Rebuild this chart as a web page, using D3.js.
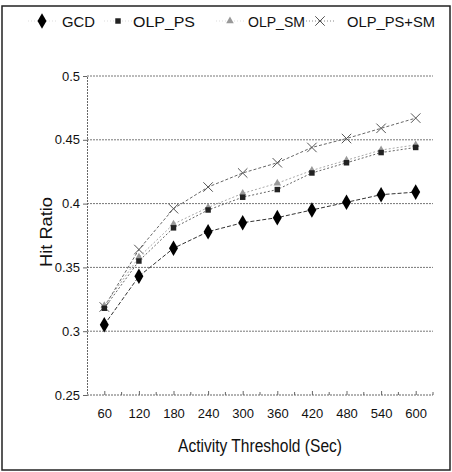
<!DOCTYPE html>
<html lang="en">
<head>
  <meta charset="utf8">
  <script src="https://cdn.jsdelivr.net/npm/d3@7"></script>
  <title>Hit Ratio</title>
  <style>
    body { margin: 0; background: #fff; }
    text { font-family: "Liberation Sans", Arial, sans-serif; fill: #111; }
  </style>
</head>
<body>
  <div id="chart"></div>
<script>
  // data
  var thresholds = ["60", "120", "180", "240", "300", "360", "420", "480", "540", "600"];
  var gcd     = [0.305, 0.343, 0.365, 0.378, 0.385, 0.389, 0.395, 0.401, 0.407, 0.409];
  var olpPs   = [0.318, 0.355, 0.381, 0.395, 0.405, 0.411, 0.424, 0.432, 0.440, 0.444];
  var olpSm   = [0.320, 0.358, 0.384, 0.397, 0.408, 0.416, 0.426, 0.434, 0.442, 0.446];
  var olpPsSm = [0.319, 0.364, 0.396, 0.413, 0.424, 0.432, 0.444, 0.451, 0.459, 0.467];
  var yTicks = [0.25, 0.3, 0.35, 0.4, 0.45, 0.5];
  var yTickLabels = ["0.25", "0.3", "0.35", "0.4", "0.45", "0.5"];
  var seriesNames = ["GCD", "OLP_PS", "OLP_SM", "OLP_PS+SM"];

  var width = 452, height = 472;
  var plot = { left: 87, right: 433, top: 76, bottom: 395 };

  var svg = d3.select("#chart").append("svg")
    .attr("width", width).attr("height", height);

  // outer frame
  svg.append("rect")
    .attr("x", 2).attr("y", 6).attr("width", 448).attr("height", 464)
    .attr("fill", "none").attr("stroke", "#222").attr("stroke-width", 1.5);

  var x = d3.scalePoint().domain(thresholds)
    .range([plot.left, plot.right]).padding(0.5);
  var y = d3.scaleLinear().domain([0.25, 0.5])
    .range([plot.bottom, plot.top]);

  // gridlines
  svg.append("g").selectAll("line")
    .data(yTicks.filter(function (d) { return d > 0.25; }))
    .enter().append("line")
    .attr("x1", plot.left).attr("x2", plot.right)
    .attr("y1", function (d) { return y(d); })
    .attr("y2", function (d) { return y(d); })
    .attr("stroke", "#777").attr("stroke-width", 1)
    .attr("stroke-dasharray", "2,1");

  // y axis
  var yAxis = d3.axisLeft(y).tickValues(yTicks)
    .tickSize(4)
    .tickFormat(function (d, i) { return yTickLabels[i]; });
  var gy = svg.append("g").attr("transform", "translate(" + plot.left + ",0)").call(yAxis);
  gy.select(".domain").attr("stroke", "#666").attr("stroke-dasharray", "2,1");
  gy.selectAll(".tick line").attr("stroke", "#666");
  gy.selectAll("text").style("font-size", "13px").attr("x", -7).attr("fill", "#111");

  // x axis
  var xAxis = d3.axisBottom(x).tickSize(-4).tickPadding(14);
  var gx = svg.append("g").attr("transform", "translate(0," + plot.bottom + ")").call(xAxis);
  gx.select(".domain").attr("d", "M" + plot.left + ",0H" + plot.right)
    .attr("stroke", "#666").attr("stroke-dasharray", "2,1");
  gx.selectAll(".tick line").attr("stroke", "#666");
  gx.selectAll("text").style("font-size", "13px").attr("fill", "#111");
  // minor ticks between categories
  var step = x.step();
  gx.selectAll("line.minor").data(thresholds).enter().append("line")
    .attr("class", "minor")
    .attr("x1", function (d) { return x(d) + step / 2; })
    .attr("x2", function (d) { return x(d) + step / 2; })
    .attr("y1", 0).attr("y2", -3).attr("stroke", "#666");

  // axis titles
  svg.append("text").attr("x", 260).attr("y", 452)
    .attr("text-anchor", "middle").style("font-size", "18px")
    .attr("textLength", 164).attr("lengthAdjust", "spacingAndGlyphs")
    .text("Activity Threshold (Sec)");
  svg.append("text")
    .attr("transform", "translate(52,232) rotate(-90)")
    .attr("text-anchor", "middle").style("font-size", "17px")
    .attr("textLength", 70).attr("lengthAdjust", "spacingAndGlyphs")
    .text("Hit Ratio");

  // series
  var series = [
    { name: seriesNames[0], values: gcd, stroke: "#333", dash: "4,2", mark: "diamond", fill: "#000" },
    { name: seriesNames[1], values: olpPs, stroke: "#666", dash: "2,2", mark: "square", fill: "#222" },
    { name: seriesNames[2], values: olpSm, stroke: "#aaa", dash: "2,2", mark: "triangle", fill: "#999" },
    { name: seriesNames[3], values: olpPsSm, stroke: "#666", dash: "3,2", mark: "cross", fill: "#555" }
  ];

  var line = d3.line()
    .x(function (d, i) { return x(thresholds[i]); })
    .y(function (d) { return y(d); });

  var symbolFor = {
    diamond: d3.symbol().type(d3.symbolDiamond).size(70),
    square: d3.symbol().type(d3.symbolSquare).size(30),
    triangle: d3.symbol().type(d3.symbolTriangle).size(25),
    cross: d3.symbol().type(d3.symbolX).size(60)
  };

  function drawMark(g, s, cx, cy) {
    var p = g.append("path").attr("d", symbolFor[s.mark]())
      .attr("transform", "translate(" + cx + "," + cy + ")");
    if (s.mark === "cross") {
      p.attr("fill", "none").attr("stroke", s.fill).attr("stroke-width", 1);
    } else {
      p.attr("fill", s.fill);
    }
  }

  series.slice().reverse().forEach(function (s) {
    var g = svg.append("g");
    g.append("path").datum(s.values)
      .attr("d", line).attr("fill", "none")
      .attr("stroke", s.stroke).attr("stroke-width", 1)
      .attr("stroke-dasharray", s.dash);
    s.values.forEach(function (v, i) {
      drawMark(g, s, x(thresholds[i]), y(v));
    });
  });

  // legend
  var legendPos = [
    { mx: 42, tx: 62, tw: 33 },
    { mx: 118, tx: 133, tw: 62 },
    { mx: 230, tx: 248, tw: 57 },
    { mx: 320, tx: 347, tw: 88 }
  ];
  var legend = svg.append("g");
  series.forEach(function (s, i) {
    var lp = legendPos[i];
    legend.append("line")
      .attr("x1", lp.mx - 14).attr("x2", lp.mx + 14)
      .attr("y1", 21).attr("y2", 21)
      .attr("stroke", i === 3 ? "#888" : "#ddd").attr("stroke-dasharray", "1,2");
    drawMark(legend, s, lp.mx, 21);
    legend.append("text").attr("x", lp.tx).attr("y", 27)
      .style("font-size", "15px")
      .attr("textLength", lp.tw).attr("lengthAdjust", "spacingAndGlyphs")
      .text(s.name);
  });
</script>
</body>
</html>
